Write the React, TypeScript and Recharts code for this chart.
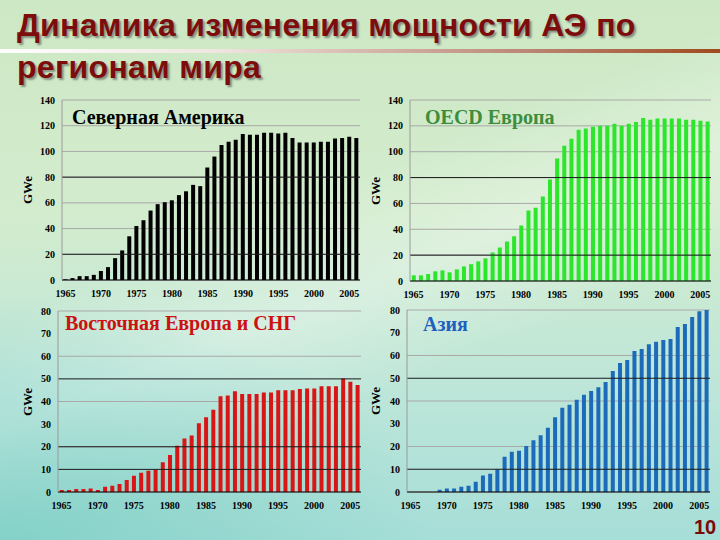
import { BarChart, Bar, XAxis, YAxis, CartesianGrid, ReferenceLine } from 'recharts'

const years = [
  '1965', '1966', '1967', '1968', '1969', '1970', '1971', '1972', '1973', '1974',
  '1975', '1976', '1977', '1978', '1979', '1980', '1981', '1982', '1983', '1984',
  '1985', '1986', '1987', '1988', '1989', '1990', '1991', '1992', '1993', '1994',
  '1995', '1996', '1997', '1998', '1999', '2000', '2001', '2002', '2003', '2004',
  '2005', '2006',
]

// GWe по годам 1965–2006
const northAmerica = [
  0.5, 1.5, 3, 3, 4, 7, 10, 17, 23, 34,
  42, 46.5, 54, 59, 60.5, 62, 66, 69, 74, 73,
  87.5, 96, 105, 107.5, 109, 113.5, 113, 113, 114.5, 114.5,
  114, 114.5, 110.5, 107, 107, 107, 107.5, 107.5, 110, 110.5,
  111.5, 110.5,
]
const oecdEurope = [
  4.4, 4.4, 5.4, 7.5, 8.2, 6.7, 9, 11.3, 13, 15.2,
  17.5, 22, 26, 30.6, 34.7, 43, 54.5, 56.6, 65.4, 78.5,
  94.7, 104.7, 110, 117, 118, 119.4, 120, 120, 121.7, 120,
  121.7, 123, 126, 124.8, 125.6, 125.6, 125.6, 125.6, 124.8, 124.8,
  124, 123.3,
]
const easternEurope = [
  0.9, 0.9, 1.3, 1.3, 1.6, 0.9, 2.3, 2.8, 3.5, 5.3,
  7.2, 8.5, 9.4, 9.8, 13.2, 16.4, 20.4, 23.6, 25, 30.4,
  33, 36.3, 42.3, 42.7, 44.5, 43.3, 43.3, 43.3, 44, 44,
  45, 45, 45, 45.5, 45.8, 45.8, 46.7, 46.7, 46.7, 50.2,
  48.7, 47.3,
]
const asia = [
  0, 0, 0, 0, 1, 1.5, 1.5, 2.3, 2.8, 4.5,
  7.2, 8, 10, 15.5, 17.7, 18.1, 20.2, 22.8, 25, 28.2,
  32.9, 37, 38.3, 40.5, 42.7, 44.4, 46, 48.4, 53.2, 56.7,
  58, 62, 62.9, 65, 66, 66.8, 67.3, 72.5, 73.8, 76.9,
  79.5, 80.8,
]

const bigTicks = [0, 20, 40, 60, 80, 100, 120, 140]
const smallTicks = [0, 10, 20, 30, 40, 50, 60, 70, 80]

const serif = '"Liberation Serif", "Times New Roman", serif'
const sans = '"Liberation Sans", Arial, sans-serif'

const tickStyle = { fontFamily: serif, fontSize: 10, fontWeight: 700, fill: '#000' }

type PanelProps = {
  values: number[]
  ticks: number[]
  darkLines: number[]
  color: string
  gap: string
  title: string
  titleColor: string
  // plot rectangle on the slide
  px: number
  py: number
  pw: number
  ph: number
  titleX: number
  titleY: number
  gweX: number
}

const Y_W = 42
const M_L = 8
const M_T = 8
const M_R = 6
const X_H = 22
const M_B = 4

function Panel(p: PanelProps) {
  const data = years.map((year, i) => ({ year, value: p.values[i] }))
  const max = p.ticks[p.ticks.length - 1]
  const left = p.px - Y_W - M_L
  const top = p.py - M_T
  const width = p.pw + Y_W + M_L + M_R
  const height = p.ph + M_T + X_H + M_B
  return (
    <>
      <div style={{ position: 'absolute', left, top }}>
        <BarChart
          width={width}
          height={height}
          data={data}
          margin={{ top: M_T, right: M_R, left: M_L, bottom: M_B }}
          barCategoryGap={p.gap}
        >
          <CartesianGrid vertical={false} stroke="#a9a9a9" />
          {p.darkLines.map((v) => (
            <ReferenceLine key={v} y={v} stroke="#1b1b1b" strokeWidth={1} />
          ))}
          <XAxis
            dataKey="year"
            interval={4}
            height={X_H}
            tick={tickStyle}
            tickLine={false}
            tickSize={0}
            tickMargin={10}
            axisLine={{ stroke: '#000' }}
          />
          <YAxis
            width={Y_W}
            domain={[0, max]}
            ticks={p.ticks}
            allowDataOverflow
            tick={tickStyle}
            tickLine={false}
            tickSize={0}
            tickMargin={7}
            axisLine={{ stroke: '#9a9a9a' }}
          />
          <YAxis
            yAxisId="r"
            orientation="right"
            width={0}
            domain={[0, max]}
            ticks={p.ticks}
            tick={false}
            tickLine={false}
            axisLine={{ stroke: '#a9a9a9' }}
          />
          <Bar dataKey="value" fill={p.color} isAnimationActive={false} />
        </BarChart>
      </div>
      <div
        style={{
          position: 'absolute',
          left: p.titleX,
          top: p.titleY - 11,
          fontFamily: serif,
          fontWeight: 700,
          fontSize: 20,
          lineHeight: '22px',
          color: p.titleColor,
          whiteSpace: 'nowrap',
        }}
      >
        {p.title}
      </div>
      <div
        style={{
          position: 'absolute',
          left: p.gweX - 20,
          top: p.py + p.ph / 2 - 8,
          width: 40,
          height: 16,
          textAlign: 'center',
          transform: 'rotate(-90deg)',
          fontFamily: serif,
          fontWeight: 700,
          fontSize: 13,
          lineHeight: '16px',
          color: '#000',
        }}
      >
        GWe
      </div>
    </>
  )
}

export default function App() {
  return (
    <div
      style={{
        position: 'absolute',
        left: 0,
        top: 0,
        width: 720,
        height: 540,
        overflow: 'hidden',
        background:
          'radial-gradient(ellipse 60% 45% at 0% 100%, rgba(120,205,195,0.75), rgba(120,205,195,0) 100%),' +
          'linear-gradient(158deg, rgba(255,255,255,0) 38%, rgba(255,255,255,0.3) 52%, rgba(255,255,255,0) 66%),' +
          'linear-gradient(180deg, #cde8c4 0%, #d3ecce 40%, #bde6d9 72%, #a6ded8 100%)',
      }}
    >
      <div
        style={{
          position: 'absolute',
          left: 0,
          top: 49,
          width: 720,
          height: 4,
          background: 'linear-gradient(90deg, #ffffff 0%, #efe6e0 30%, #b98270 75%, #a04a1e 100%)',
        }}
      />
      <div
        style={{
          position: 'absolute',
          left: 17,
          top: 4,
          fontFamily: sans,
          fontWeight: 700,
          fontSize: 32,
          lineHeight: '42px',
          letterSpacing: '0.3px',
          color: '#7d0c0c',
          textShadow: '2px 2px 2px rgba(70,70,70,0.55)',
          whiteSpace: 'nowrap',
        }}
      >
        Динамика изменения мощности АЭ по
        <br />
        регионам мира
      </div>

      <Panel
        values={northAmerica}
        ticks={bigTicks}
        darkLines={[20, 80]}
        color="#000000"
        gap="20%"
        title="Северная Америка"
        titleColor="#000000"
        px={62}
        py={100}
        pw={298}
        ph={180}
        titleX={72}
        titleY={117}
        gweX={28}
      />
      <Panel
        values={oecdEurope}
        ticks={bigTicks}
        darkLines={[20, 80]}
        color="#2be62b"
        gap="25%"
        title="OECD Европа"
        titleColor="#3d8d3d"
        px={410}
        py={100}
        pw={301}
        ph={181}
        titleX={425}
        titleY={117}
        gweX={376}
      />
      <Panel
        values={easternEurope}
        ticks={smallTicks}
        darkLines={[10, 20, 50]}
        color="#d81616"
        gap="25%"
        title="Восточная Европа и СНГ"
        titleColor="#cc1111"
        px={58}
        py={311}
        pw={303}
        ph={181}
        titleX={65}
        titleY={323}
        gweX={28}
      />
      <Panel
        values={asia}
        ticks={smallTicks}
        darkLines={[10, 50]}
        color="#1c6bbb"
        gap="25%"
        title="Азия"
        titleColor="#1f5fc0"
        px={407}
        py={310}
        pw={303}
        ph={182}
        titleX={423}
        titleY={324}
        gweX={376}
      />

      <div
        style={{
          position: 'absolute',
          left: 694,
          top: 516,
          fontFamily: sans,
          fontWeight: 700,
          fontSize: 20,
          lineHeight: '22px',
          color: '#7a0a0a',
        }}
      >
        10
      </div>
    </div>
  )
}
